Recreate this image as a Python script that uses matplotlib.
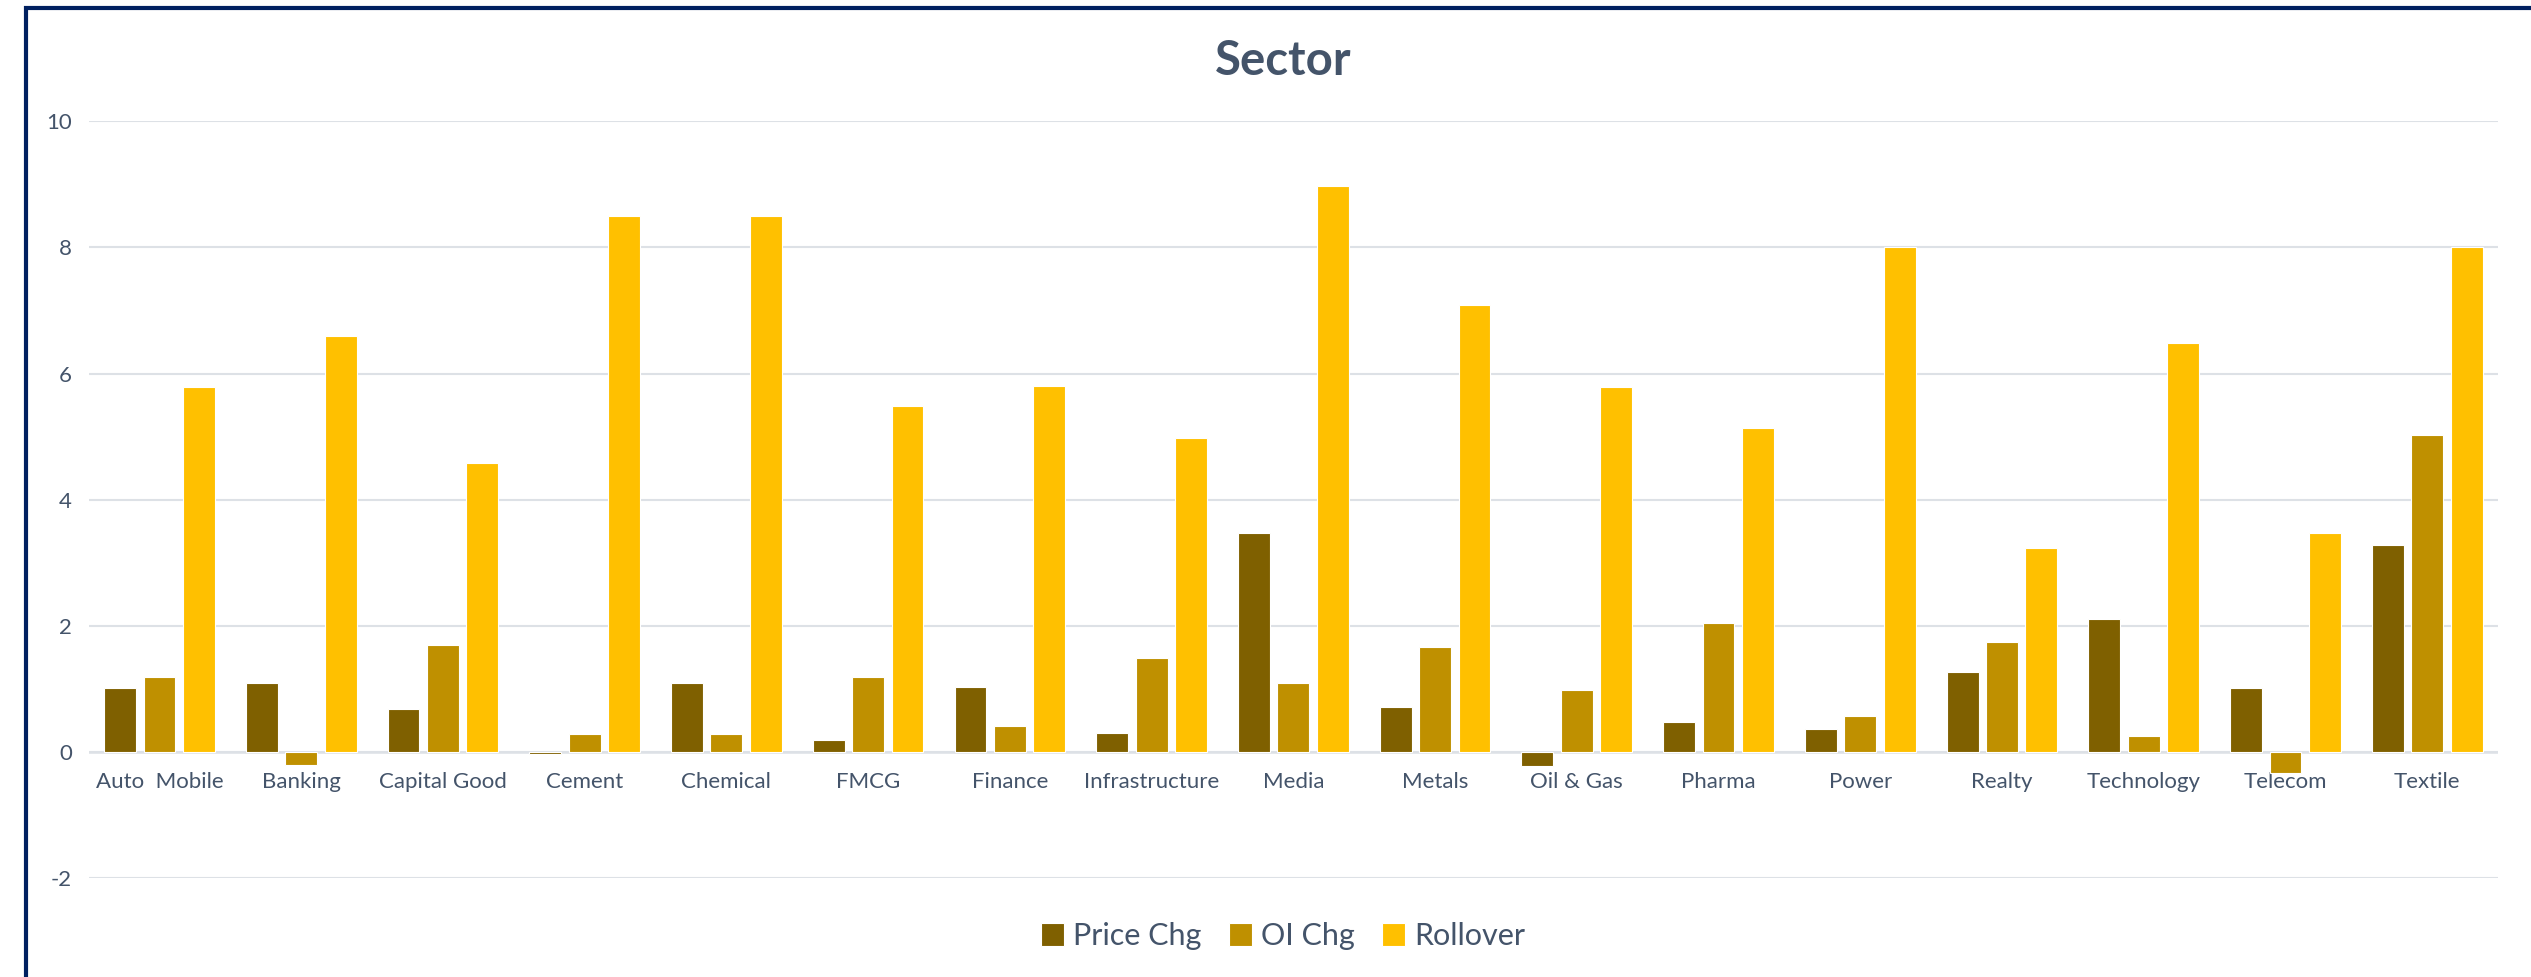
import numpy as np
import matplotlib.pyplot as plt
from matplotlib.patches import Rectangle

plt.rcParams['font.family'] = ['Lato', 'DejaVu Sans']

# data
sectors = ['Auto  Mobile', 'Banking', 'Capital Good', 'Cement', 'Chemical', 'FMCG',
           'Finance', 'Infrastructure', 'Media', 'Metals', 'Oil & Gas', 'Pharma',
           'Power', 'Realty', 'Technology', 'Telecom', 'Textile']
price_chg = [1.01, 1.09, 0.69, -0.03, 1.09, 0.19, 1.03, 0.30, 3.48, 0.72, -0.22, 0.47,
             0.36, 1.27, 2.11, 1.01, 3.28]
oi_chg = [1.19, -0.21, 1.70, 0.29, 0.29, 1.19, 0.42, 1.49, 1.09, 1.66, 0.98, 2.04,
          0.57, 1.74, 0.25, -0.33, 5.03]
rollover = [5.78, 6.6, 4.58, 8.49, 8.49, 5.48, 5.81, 4.98, 8.98, 7.09, 5.78, 5.14,
            8.0, 3.24, 6.49, 3.48, 8.0]
yticks = [-2, 0, 2, 4, 6, 8, 10]

series = [('Price Chg', price_chg, '#7F6000'),
          ('OI Chg', oi_chg, '#BF9000'),
          ('Rollover', rollover, '#FFC000')]
text_col = '#44546A'
grid_col = '#DDE1E6'

fig = plt.figure(figsize=(25.31, 9.77), dpi=100)
ax = fig.add_axes([0.035, 0.101, 0.952, 0.775])

x = np.arange(len(sectors))
step = 0.278
width = 0.225
for i, (name, vals, col) in enumerate(series):
    ax.bar(x + (i - 1) * step, vals, width, color=col, label=name,
           edgecolor='white', linewidth=0.8, zorder=3)

ax.set_xlim(-0.5, len(sectors) - 0.5)
ax.set_ylim(-2, 10)
ax.set_yticks(yticks)
ax.set_yticklabels([str(t) for t in yticks])
ax.set_xticks(x)
ax.set_xticklabels(sectors)
ax.grid(axis='y', color=grid_col, linewidth=1.5, zorder=0)
ax.axhline(0, color=grid_col, linewidth=1.8, zorder=2)
for s in ['top', 'right', 'left']:
    ax.spines[s].set_visible(False)
ax.spines['bottom'].set_position(('data', 0))
ax.spines['bottom'].set_visible(False)
ax.tick_params(axis='both', length=0, labelsize=16, colors=text_col)
ax.tick_params(axis='x', pad=14)
ax.tick_params(axis='y', pad=12)

fig.text(0.507, 0.938, 'Sector', ha='center', va='center', fontsize=34,
         fontweight='bold', color=text_col)

leg = fig.legend(loc='center', bbox_to_anchor=(0.507, 0.042), ncol=3, frameon=False,
                 fontsize=22, handlelength=0.75, handleheight=0.8, handletextpad=0.3,
                 columnspacing=0.9)
for t in leg.get_texts():
    t.set_color(text_col)

# dark frame round the chart (top and left edges visible)
fig.patches.append(Rectangle((26 / 2531, -0.2), 1.2, 1.2 - 8 / 977,
                             transform=fig.transFigure, fill=False,
                             edgecolor='#002060', linewidth=3, zorder=10))

fig.savefig('out.png', dpi=100)
